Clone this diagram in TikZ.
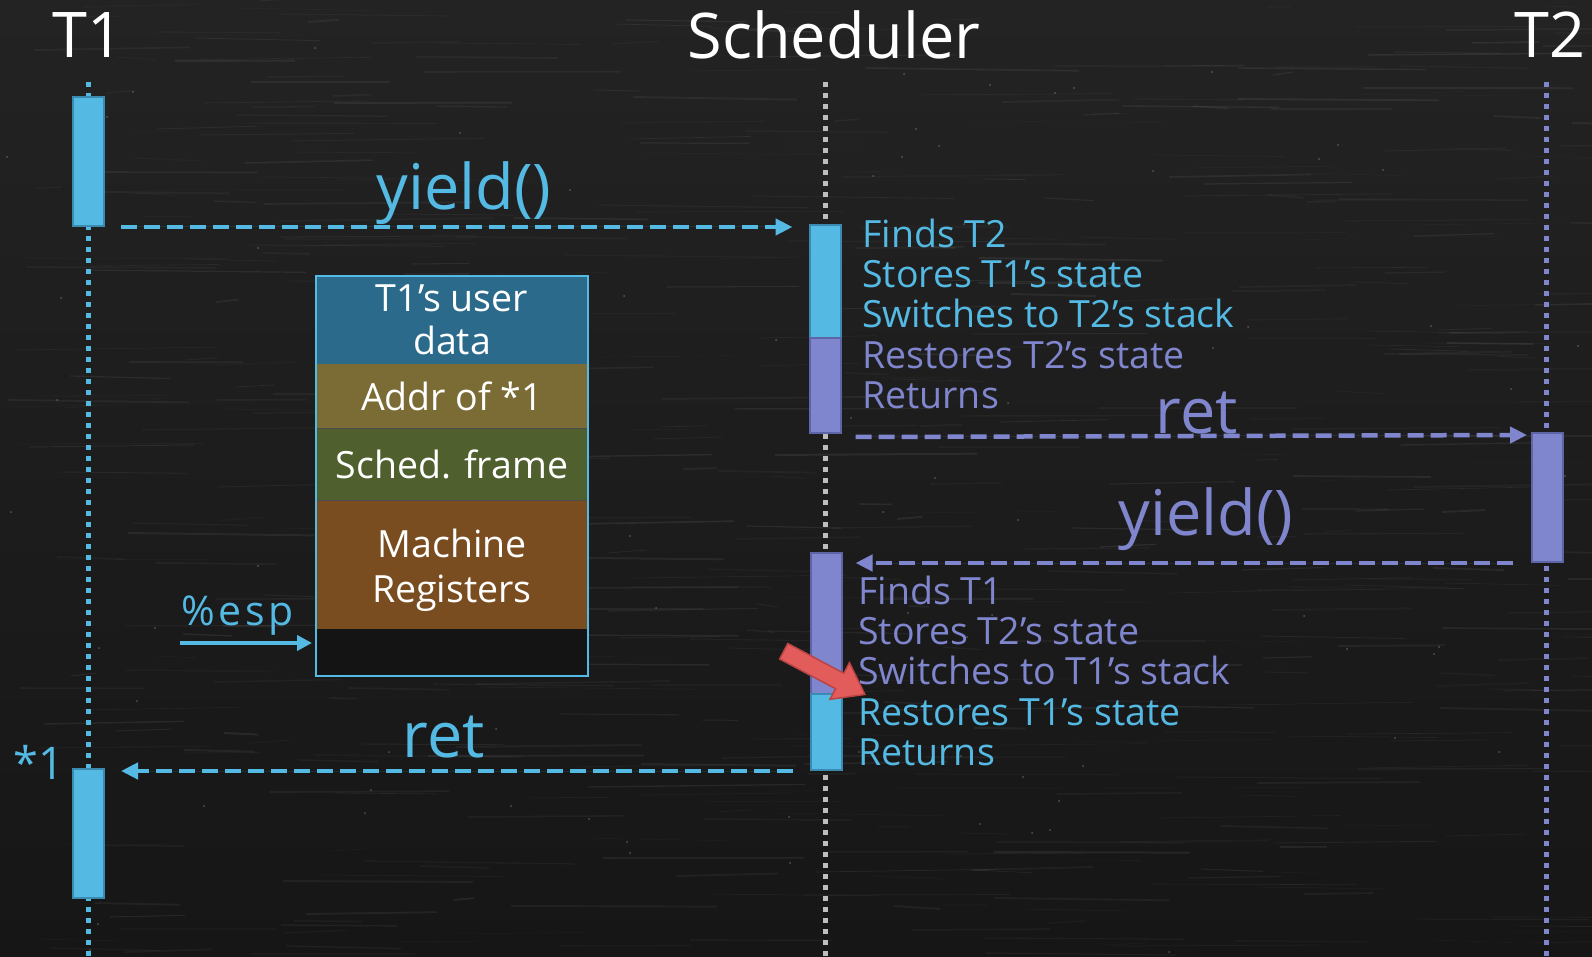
\documentclass[tikz,border=0pt]{standalone}
\usepackage{fontspec}
\setmainfont{Open Sans}
\usetikzlibrary{arrows.meta,shapes.arrows,calc}

\definecolor{board}{RGB}{35,35,35}
\definecolor{boarddark}{RGB}{22,22,22}
\definecolor{lb}{RGB}{84,186,228}
\definecolor{lbd}{RGB}{58,138,178}
\definecolor{pu}{RGB}{128,134,206}
\definecolor{pud}{RGB}{94,101,166}
\definecolor{dotgray}{RGB}{190,190,190}
\definecolor{skblue}{RGB}{43,106,138}
\definecolor{skolive}{RGB}{122,108,52}
\definecolor{skgreen}{RGB}{80,95,46}
\definecolor{skbrown}{RGB}{122,77,33}
\definecolor{skempty}{RGB}{20,20,20}
\definecolor{ptr}{RGB}{226,92,92}
\definecolor{ptrd}{RGB}{186,68,68}

\newcommand{\titlefont}{\fontsize{63}{70}\selectfont}
\newcommand{\bodyfont}{\fontsize{37.5}{40}\selectfont}

\tikzset{
  lifeline/.style={line width=5pt, dash pattern=on 5pt off 6pt},
  actbar/.style={rectangle, inner sep=0pt, line width=2pt, minimum width=31pt, anchor=north},
  actblue/.style={actbar, draw=lbd, fill=lb},
  actpurple/.style={actbar, draw=pud, fill=pu},
  msg/.style={line width=4.5pt, dash pattern=on 16pt off 7pt, -{Triangle[length=17pt,width=16pt]}},
  msgblue/.style={msg, draw=lb, fill=lb},
  msgpurple/.style={msg, draw=pu, fill=pu},
  title/.style={text=white, font=\titlefont, anchor=base, inner sep=0pt},
  biglabel/.style={font=\titlefont, anchor=base, inner sep=0pt},
  stepline/.style={font=\bodyfont, anchor=base west, inner sep=0pt},
  slot/.style={rectangle, inner sep=0pt, minimum width=272pt, anchor=north},
  slottext/.style={text=white, font=\bodyfont, anchor=base, inner sep=0pt},
}

\begin{document}
\begin{tikzpicture}[x=1pt, y=-1pt]
  % chalkboard
  \useasboundingbox (0,0) rectangle (1592,957);
  \shade[top color=board, bottom color=boarddark] (0,0) rectangle (1592,957);
  \pgfmathsetseed{4242}
  \foreach \k in {1,...,520} {
    \pgfmathsetmacro{\sx}{random(0,1592)}
    \pgfmathsetmacro{\sy}{random(0,957)}
    \pgfmathsetmacro{\sl}{random(20,220)}
    \pgfmathsetmacro{\sw}{0.4+rnd*1.6}
    \pgfmathsetmacro{\so}{0.02+rnd*0.05}
    \draw[white, opacity=\so, line width=\sw pt] (\sx,\sy) -- ++(\sl,{rnd*6-3});
  }
  \foreach \k in {1,...,80} {
    \pgfmathsetmacro{\sx}{random(0,1592)}
    \pgfmathsetmacro{\sy}{random(0,957)}
    \fill[white, opacity=0.25] (\sx,\sy) circle (1pt);
  }

  % participants
  \node[title] (t1title) at (88,58) {T1};
  \node[title] (schedtitle) at (834,59) {Scheduler};
  \node[title] (t2title) at (1550,58) {T2};

  % lifelines
  \coordinate (t1top) at (88.5,82);   \coordinate (t1bot) at (88.5,957);
  \coordinate (sctop) at (825,82);    \coordinate (scbot) at (825,957);
  \coordinate (t2top) at (1546,82);   \coordinate (t2bot) at (1546,957);
  \draw[lifeline, lb] (t1top) -- (t1bot);
  \draw[lifeline, dotgray] (sctop) -- (scbot);
  \draw[lifeline, pu] (t2top) -- (t2bot);

  % activation bars
  \node[actblue, minimum height=129pt] (t1a) at (88.5,96) {};
  \node[actblue, minimum height=129pt] (t1b) at (88.5,768) {};
  \node[actblue, minimum height=113pt] (s1a) at (825,224) {};
  \node[actpurple, minimum height=95pt] (s1b) at (825,337) {};
  \node[actpurple, minimum height=141pt] (s2a) at (826,552) {};
  \node[actblue, minimum height=76pt] (s2b) at (826,693) {};
  \node[actpurple, minimum height=129pt] (t2a) at (1547.5,432) {};

  % messages
  \draw[msgblue] ([xshift=16pt]t1a.south east) -- ([xshift=-16pt]s1a.north west |- t1a.south east);
  \node[biglabel, text=lb] (lyield1) at (464,210) {yield()};

  \draw[msgpurple] ([xshift=14pt,yshift=-3pt]s1b.south east) -- ([xshift=-4pt,yshift=-3pt]t2a.north west);
  \node[biglabel, text=pu] (lret1) at (1197,433) {ret};

  \draw[msgpurple] ([xshift=-18pt]t2a.south west) -- ([xshift=13pt]s2a.north east |- t2a.south west);
  \node[biglabel, text=pu] (lyield2) at (1206,535) {yield()};

  \draw[msgblue] ([xshift=-17pt]s2b.south west) -- ([xshift=16pt]t1b.north east |- s2b.south west);
  \node[biglabel, text=lb] (lret2) at (444,757) {ret};

  \node[font=\fontsize{45}{48}\selectfont, text=lb, anchor=base, inner sep=0pt] (star1) at (39,779) {*1};

  % scheduler steps, first pass
  \node[stepline, text=lb] (pa1) at (862,248) {Finds T2};
  \node[stepline, text=lb] (pa2) at (862,288) {Stores T1’s state};
  \node[stepline, text=lb] (pa3) at (862,328) {Switches to T2’s stack};
  \node[stepline, text=pu] (pa4) at (862,368) {Restores T2’s state};
  \node[stepline, text=pu] (pa5) at (862,408) {Returns};

  % scheduler steps, second pass
  \node[stepline, text=pu] (pb1) at (858,604) {Finds T1};
  \node[stepline, text=pu] (pb2) at (858,644) {Stores T2’s state};
  \node[stepline, text=pu] (pb3) at (858,684) {Switches to T1’s stack};
  \node[stepline, text=lb] (pb4) at (858,725) {Restores T1’s state};
  \node[stepline, text=lb] (pb5) at (858,765) {Returns};

  % pointer to the stack switch
  \node[single arrow, fill=ptr, draw=ptrd, line width=1.5pt, inner sep=8pt,
        single arrow head extend=12pt, single arrow tip angle=72,
        minimum height=92pt, rotate=-28] (switchptr) at (819,670) {};

  % T1's stack
  \node[slot, fill=skblue, minimum height=89pt] (sk1) at (452,275) {};
  \node[slot, fill=skolive, minimum height=64pt] (sk2) at (452,364) {};
  \node[slot, fill=skgreen, minimum height=72pt] (sk3) at (452,428) {};
  \node[slot, fill=skbrown, minimum height=129pt] (sk4) at (452,500) {};
  \node[slot, fill=skempty, minimum height=46pt] (sk5) at (452,629) {};
  \draw[black!70, line width=1pt] (sk3.north west) -- (sk3.north east);
  \draw[black!70, line width=1pt] (sk4.north west) -- (sk4.north east);
  \node[rectangle, draw=lb, line width=2pt, inner sep=0pt,
        minimum width=272pt, minimum height=400pt, anchor=north] (stack) at (452,275) {};

  \node[slottext] (sk1a) at (452,312) {T1’s user};
  \node[slottext] (sk1b) at (452,355) {data};
  \node[slottext] (sk2a) at (452,410) {Addr of *1};
  \node[slottext] (sk3a) at (452,478) {Sched. frame};
  \node[slottext] (sk4a) at (452,557) {Machine};
  \node[slottext] (sk4b) at (452,602) {Registers};

  % stack pointer
  \node[font=\fontsize{41}{44}\selectfont\addfontfeature{LetterSpace=9}, text=lb, anchor=base west, inner sep=0pt] (esp) at (181,625) {\%esp};
  \coordinate (espstart) at (180,643);
  \draw[lb, line width=4pt, -{Triangle[length=15pt,width=15pt]}] (espstart) -- ([xshift=-3pt]espstart -| stack.west);
\end{tikzpicture}
\end{document}
